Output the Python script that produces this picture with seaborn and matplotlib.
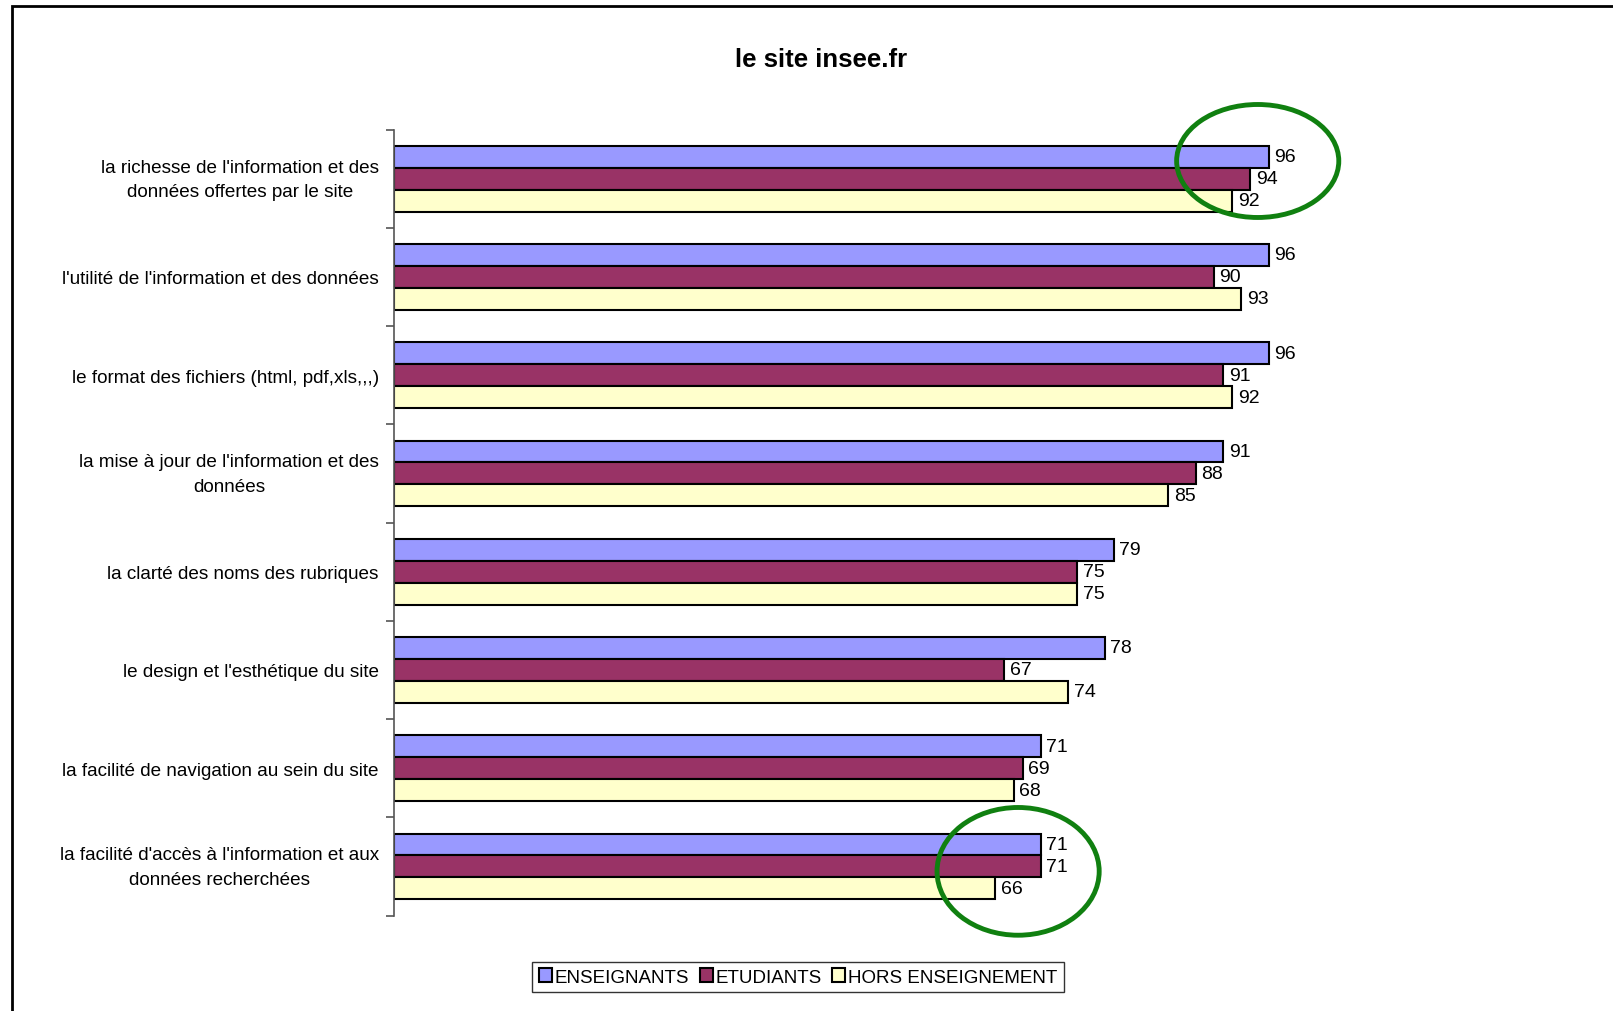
import pandas as pd
import matplotlib.pyplot as plt
import matplotlib.transforms as mtransforms
import seaborn as sns
from matplotlib.patches import Ellipse, Rectangle

sns.set_style("white")
plt.rcParams['font.family'] = ['Liberation Sans', 'DejaVu Sans']
plt.rcParams['text.color'] = 'black'
plt.rcParams['ytick.color'] = '#555555'
plt.rcParams['ytick.labelcolor'] = 'black'

# data
criteres = [
    "la richesse de l'information et des\ndonnées offertes par le site",
    "l'utilité de l'information et des données",
    "le format des fichiers (html, pdf,xls,,,)",
    "la mise à jour de l'information et des\ndonnées",
    "la clarté des noms des rubriques",
    "le design et l'esthétique du site",
    "la facilité de navigation au sein du site",
    "la facilité d'accès à l'information et aux\ndonnées recherchées",
]
groupes = ["ENSEIGNANTS", "ETUDIANTS", "HORS ENSEIGNEMENT"]
enseignants = [96, 96, 96, 91, 79, 78, 71, 71]
etudiants = [94, 90, 91, 88, 75, 67, 69, 71]
hors_ens = [92, 93, 92, 85, 75, 74, 68, 66]
couleurs = ["#9999FF", "#993366", "#FFFFCC"]

df = pd.DataFrame({
    "critere": criteres * 3,
    "groupe": [g for g in groupes for _ in criteres],
    "valeur": enseignants + etudiants + hors_ens,
})

fig = plt.figure(figsize=(16.13, 10.12), dpi=100)
ax = fig.add_axes([0.2443, 0.0943, 0.5648, 0.7767])

sns.barplot(data=df, y="critere", x="valeur", hue="groupe", order=criteres,
            hue_order=groupes, palette=couleurs, orient="h", width=0.67,
            edgecolor="black", linewidth=1.5, saturation=1, ax=ax)

for cont in ax.containers:
    ax.bar_label(cont, fmt="%d", padding=4, fontsize=14, color="black")

ax.set_xlim(0, 100)
ax.set_ylim(7.5, -0.5)
ax.set_xlabel("")
ax.set_ylabel("")
ax.set_xticks([])
for s in ["top", "right", "bottom"]:
    ax.spines[s].set_visible(False)
ax.spines["left"].set_color("#555555")
ax.spines["left"].set_linewidth(1.2)

# labels centered on groups, small tick marks between groups
ax.tick_params(axis="y", which="major", left=False, length=0, pad=11,
               labelsize=13.6)
ax.set_yticks([i - 0.5 for i in range(len(criteres) + 1)], minor=True)
ax.tick_params(axis="y", which="minor", left=True, length=6, width=1.2)
shift = mtransforms.ScaledTranslation(0, 5 / 100, fig.dpi_scale_trans)
for lab in ax.get_yticklabels():
    lab.set_multialignment("center")
    lab.set_linespacing(1.55)
    if "\n" in lab.get_text():
        lab.set_transform(lab.get_transform() + shift)

fig.text(821 / 1613, 1 - 60 / 1012, "le site insee.fr", fontsize=18.5,
         fontweight="bold", ha="center", va="center")

# green highlight circles
ax.add_patch(Ellipse((94.8, -0.18), 17.8, 1.15, fill=False, edgecolor="#108010",
                     linewidth=3.5, clip_on=False))
ax.add_patch(Ellipse((68.5, 7.05), 17.8, 1.3, fill=False, edgecolor="#108010",
                     linewidth=3.5, clip_on=False))

ax.legend(loc="center", bbox_to_anchor=(798 / 1613, 1 - 978 / 1012),
          bbox_transform=fig.transFigure, ncol=3, fontsize=13.5, frameon=True,
          fancybox=False, edgecolor="black", handlelength=0.7,
          handleheight=0.7, handletextpad=0.15, columnspacing=0.55,
          borderpad=0.35, borderaxespad=0)

# outer frame of the chart
fig.patches.append(Rectangle((12 / 1613, -0.05), 1.1, 0.05 + 1005 / 1012,
                             transform=fig.transFigure, fill=False,
                             edgecolor="black", linewidth=2))

fig.savefig("out.png", dpi=100)
